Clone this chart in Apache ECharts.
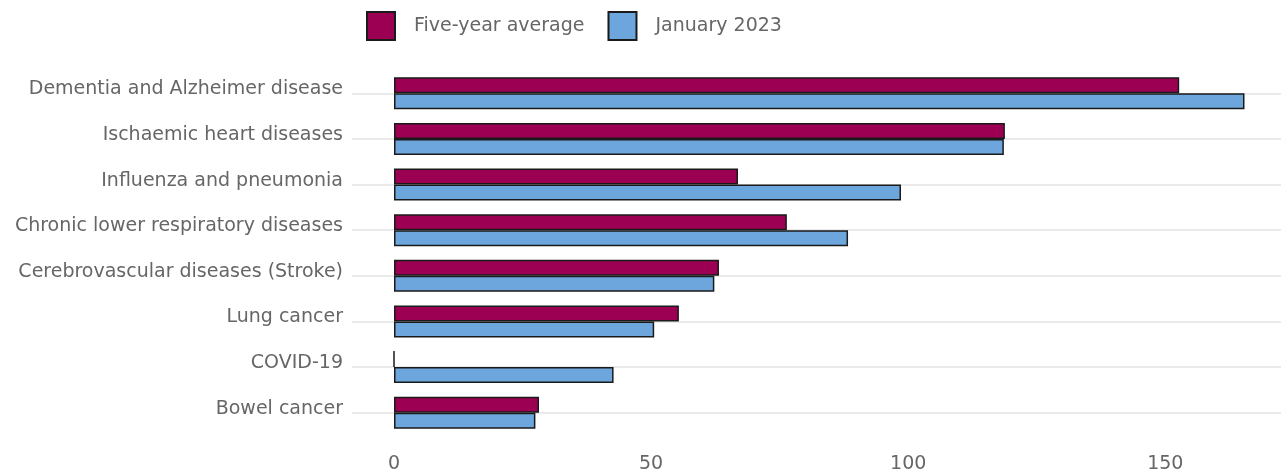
<!DOCTYPE html>
<html>
<head>
<meta charset="utf-8">
<script src="https://cdn.jsdelivr.net/npm/echarts@6/dist/echarts.min.js"></script>
<style>
  html, body { margin: 0; padding: 0; background: #fff; }
  #chart { width: 1281px; height: 470px; }
</style>
</head>
<body>
<div id="chart"></div>
<script>
// Causes of death: five-year average vs January 2023
const categories = [
  'Dementia and Alzheimer disease',
  'Ischaemic heart diseases',
  'Influenza and pneumonia',
  'Chronic lower respiratory diseases',
  'Cerebrovascular diseases (Stroke)',
  'Lung cancer',
  'COVID-19',
  'Bowel cancer'
];
const fiveYearAverage = [152.7, 118.8, 66.9, 76.4, 63.2, 55.4, 0, 28.2];
const january2023 = [165.4, 118.6, 98.6, 88.3, 62.3, 50.6, 42.7, 27.5];
const xTicks = [0, 50, 100, 150];

const FONT = '"DejaVu Sans", Verdana, sans-serif';
const TEXT = '#666666';
const GRID = '#e3e3e3';

const chart = echarts.init(document.getElementById('chart'), null, { renderer: 'canvas' });

chart.setOption({
  animation: false,
  textStyle: { fontFamily: FONT },
  legend: {
    left: 361,
    top: 6,
    icon: 'rect',
    itemWidth: 28,
    itemHeight: 28,
    itemGap: 23,
    textStyle: { fontFamily: FONT, fontSize: 19, color: TEXT, padding: [0, 0, 0, 14] },
    data: ['Five-year average', 'January 2023']
  },
  grid: {
    left: 394, right: 0, top: 70.5, bottom: 34.5,
    containLabel: false,
    outerBoundsMode: 'none'
  },
  xAxis: {
    type: 'value',
    min: 0,
    max: 172.5,
    interval: 50,
    axisLine: { show: false },
    axisTick: { show: false },
    splitLine: { show: false },
    axisLabel: {
      fontFamily: FONT, fontSize: 19, color: TEXT, margin: 19,
      showMaxLabel: false,
      formatter: v => (xTicks.indexOf(v) >= 0 ? String(v) : '')
    }
  },
  yAxis: {
    type: 'category',
    inverse: true,
    data: categories,
    axisLine: { show: false },
    axisTick: { show: true, alignWithLabel: true, length: 42, lineStyle: { color: GRID, width: 1.5 } },
    splitLine: { show: true, alignWithLabel: true, lineStyle: { color: GRID, width: 1.5 } },
    axisLabel: {
      fontFamily: FONT, fontSize: 19, color: TEXT, margin: 51,
      formatter: v => '{c|' + v + '}',
      rich: { c: { fontFamily: FONT, fontSize: 19, color: TEXT, padding: [0, 0, 8, 0] } }
    }
  },
  series: [
    {
      name: 'Five-year average',
      type: 'bar',
      data: fiveYearAverage,
      barGap: '0%',
      barCategoryGap: '30%',
      itemStyle: { color: '#9b0052', borderColor: '#1a1a1a', borderWidth: 1.5 }
    },
    {
      name: 'January 2023',
      type: 'bar',
      data: january2023,
      itemStyle: { color: '#6ca6dc', borderColor: '#1a1a1a', borderWidth: 1.5 }
    }
  ]
});
</script>
</body>
</html>
